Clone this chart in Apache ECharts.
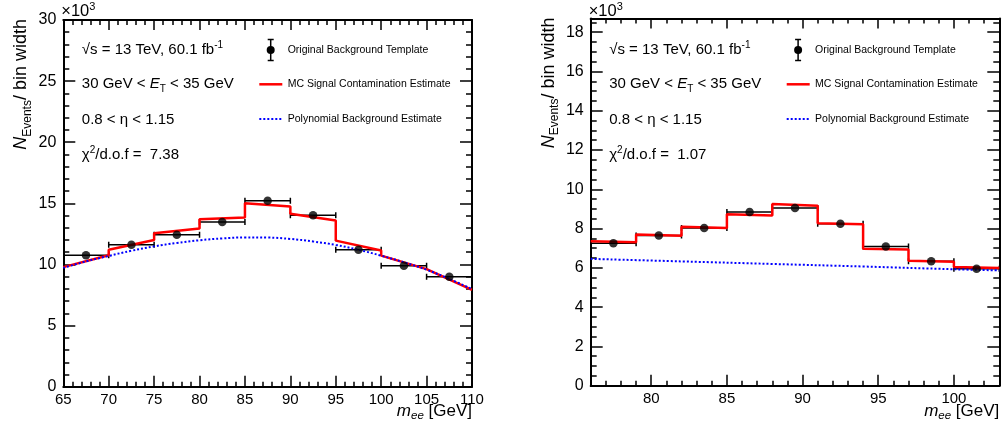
<!DOCTYPE html>
<html><head><meta charset="utf-8">
<script src="https://cdn.jsdelivr.net/npm/echarts@6/dist/echarts.min.js"></script>
<style>html,body{margin:0;padding:0;background:#fff}#c{width:1005px;height:434px}</style>
</head><body><div id="c"></div>
<script>
// ================= DATA =================
// Left panel (bins of 5 GeV), values in units of 10^3
const leftBinLo     = [65, 70, 75, 80, 85, 90, 95, 100, 105];
const leftBinHi     = [70, 75, 80, 85, 90, 95, 100, 105, 110];
const leftBinCenter = [67.5, 72.5, 77.5, 82.5, 87.5, 92.5, 97.5, 102.5, 107.5];
const leftTemplate  = [10.75, 11.62, 12.44, 13.48, 15.22, 14.03, 11.21, 9.90, 9.00];
const leftSignalStart = [9.78, 11.20, 12.55, 13.70, 15.00, 14.15, 11.95, 10.72, 9.48];
const leftSignalEnd   = [10.75, 12.00, 12.95, 13.85, 14.75, 13.60, 11.15, 9.62, 7.93];
const leftPolyX = [65, 67.5, 70, 72.5, 75, 77.5, 80, 82.5, 85, 87.5, 90, 92.5, 95, 97.5, 100, 102.5, 105, 107.5, 110];
const leftPolyY = [9.72, 10.25, 10.70, 11.12, 11.48, 11.76, 11.98, 12.13, 12.21, 12.20, 12.09, 11.88, 11.60, 11.20, 10.72, 10.18, 9.57, 8.82, 7.98];
const leftChi = '7.38';

// Right panel (bins of 3 GeV)
const rightBinLo     = [76, 79, 82, 85, 88, 91, 94, 97, 100];
const rightBinHi     = [79, 82, 85, 88, 91, 94, 97, 100, 103];
const rightBinCenter = [77.5, 80.5, 83.5, 86.5, 89.5, 92.5, 95.5, 98.5, 101.5];
const rightTemplate  = [7.26, 7.65, 8.03, 8.84, 9.05, 8.25, 7.09, 6.34, 5.95];
const rightSignalStart = [7.36, 7.70, 8.09, 8.73, 9.25, 8.27, 6.98, 6.36, 6.04];
const rightSignalEnd   = [7.30, 7.64, 8.03, 8.67, 9.17, 8.22, 6.93, 6.31, 6.00];
const rightPolyX = [76, 82, 88, 94, 100, 103];
const rightPolyY = [6.46, 6.33, 6.20, 6.07, 5.93, 5.87];
const rightChi = '1.07';

// Tick values
const leftXMajor  = [65, 70, 75, 80, 85, 90, 95, 100, 105, 110];
const leftXMinor  = [66,67,68,69,71,72,73,74,76,77,78,79,81,82,83,84,86,87,88,89,91,92,93,94,96,97,98,99,101,102,103,104,106,107,108,109];
const leftYMajor  = [0, 5, 10, 15, 20, 25, 30];
const leftYMinor  = [1,2,3,4,6,7,8,9,11,12,13,14,16,17,18,19,21,22,23,24,26,27,28,29];
const rightXMajor = [80, 85, 90, 95, 100];
const rightXMinor = [77,78,79,81,82,83,84,86,87,88,89,91,92,93,94,96,97,98,99,101,102];
const rightYMajor = [0, 2, 4, 6, 8, 10, 12, 14, 16, 18];
const rightYMinor = [0.5,1,1.5,2.5,3,3.5,4.5,5,5.5,6.5,7,7.5,8.5,9,9.5,10.5,11,11.5,12.5,13,13.5,14.5,15,15.5,16.5,17,17.5,18.5];

// ================= LAYOUT =================
const F = 'Liberation Sans';
const P = [
  {left: 63.3, top: 20, width: 408.7, height: 366.7, xmin: 65, xmax: 110, ymin: 0, ymax: 30,
   xMaj: leftXMajor, xMin: leftXMinor, yMaj: leftYMajor, yMin: leftYMinor,
   lo: leftBinLo, hi: leftBinHi, c: leftBinCenter, t: leftTemplate, s0: leftSignalStart, s1: leftSignalEnd,
   px: leftPolyX, py: leftPolyY, chi: leftChi},
  {left: 590.7, top: 18.5, width: 408.6, height: 367.2, xmin: 76, xmax: 103, ymin: 0, ymax: 18.7,
   xMaj: rightXMajor, xMin: rightXMinor, yMaj: rightYMajor, yMin: rightYMinor,
   lo: rightBinLo, hi: rightBinHi, c: rightBinCenter, t: rightTemplate, s0: rightSignalStart, s1: rightSignalEnd,
   px: rightPolyX, py: rightPolyY, chi: rightChi}
];

const grids = [], xAxes = [], yAxes = [], series = [], graphics = [];

function mkAxis(gi, pos, min, max, vals, len, isMajor, labels) {
  return {
    type: 'value', gridIndex: gi, position: pos, min: min, max: max,
    axisLine: {show: isMajor, onZero: false, lineStyle: {color: '#000', width: 2}},
    axisTick: {show: true, inside: true, length: len, customValues: vals, lineStyle: {color: '#000', width: 1.5}},
    axisLabel: labels ? {show: true, customValues: vals, margin: pos === 'bottom' ? 6 : 7,
      fontFamily: F, fontSize: pos === 'bottom' ? 15 : 16, color: '#000'} : {show: false},
    splitLine: {show: false}, minorTick: {show: false}
  };
}

function renderErr(params, api) {
  const a = api.coord([api.value(0), api.value(2)]);
  const b = api.coord([api.value(1), api.value(2)]);
  const st = {stroke: '#000', lineWidth: 1.5};
  return {type: 'group', children: [
    {type: 'line', shape: {x1: a[0], y1: a[1], x2: b[0], y2: b[1]}, style: st},
    {type: 'line', shape: {x1: a[0], y1: a[1] - 3, x2: a[0], y2: a[1] + 3}, style: st},
    {type: 'line', shape: {x1: b[0], y1: b[1] - 3, x2: b[0], y2: b[1] + 3}, style: st}
  ]};
}

const richDef = {
  n:   {fontFamily: F, fontSize: 15, lineHeight: 20, fill: '#000'},
  i:   {fontFamily: F, fontSize: 15, lineHeight: 20, fontStyle: 'italic', fill: '#000'},
  sp:  {fontFamily: F, fontSize: 10, lineHeight: 12, verticalAlign: 'top', fill: '#000'},
  sb:  {fontFamily: F, fontSize: 10, lineHeight: 10, verticalAlign: 'bottom', fill: '#000'}
};
function txt(x, y, text, rich, extra) {
  return {type: 'text', x: x, y: y, z: 100, style: Object.assign({
    text: text, rich: rich, fill: '#000', fontFamily: F, fontSize: 15, align: 'left', verticalAlign: 'middle'}, extra || {})};
}

P.forEach(function (p, gi) {
  grids.push({left: p.left, top: p.top, width: p.width, height: p.height, containLabel: false});
  const xb = xAxes.length;
  xAxes.push(mkAxis(gi, 'bottom', p.xmin, p.xmax, p.xMaj, 11, true, true));
  xAxes.push(mkAxis(gi, 'bottom', p.xmin, p.xmax, p.xMin, 5, false, false));
  xAxes.push(mkAxis(gi, 'top', p.xmin, p.xmax, p.xMaj, 10, true, false));
  xAxes.push(mkAxis(gi, 'top', p.xmin, p.xmax, p.xMin, 5, false, false));
  const yb = yAxes.length;
  yAxes.push(mkAxis(gi, 'left', p.ymin, p.ymax, p.yMaj, 12, true, true));
  yAxes.push(mkAxis(gi, 'left', p.ymin, p.ymax, p.yMin, 6, false, false));
  yAxes.push(mkAxis(gi, 'right', p.ymin, p.ymax, p.yMaj, 12, true, false));
  yAxes.push(mkAxis(gi, 'right', p.ymin, p.ymax, p.yMin, 6, false, false));

  // error bars (bin widths)
  series.push({type: 'custom', xAxisIndex: xb, yAxisIndex: yb, z: 2, clip: true,
    renderItem: renderErr, encode: {x: [0, 1], y: 2},
    data: p.lo.map(function (v, k) { return [v, p.hi[k], p.t[k]]; })});
  // MC signal contamination estimate (red)
  const red = [];
  p.lo.forEach(function (v, k) { red.push([v, p.s0[k]]); red.push([p.hi[k], p.s1[k]]); });
  series.push({type: 'line', xAxisIndex: xb, yAxisIndex: yb, z: 3, showSymbol: false, symbol: 'none',
    lineStyle: {color: '#ff0000', width: 2.5}, data: red, animation: false});
  // polynomial background (blue dotted)
  series.push({type: 'line', xAxisIndex: xb, yAxisIndex: yb, z: 4, showSymbol: false, symbol: 'none', smooth: 0.4,
    lineStyle: {color: '#0000ff', width: 2, type: [2, 2]},
    data: p.px.map(function (v, k) { return [v, p.py[k]]; }), animation: false});
  // template points
  series.push({type: 'scatter', xAxisIndex: xb, yAxisIndex: yb, z: 5, symbol: 'circle', symbolSize: 8.5,
    itemStyle: {color: '#000'}, data: p.c.map(function (v, k) { return [v, p.t[k]]; }), animation: false});

  // ---- annotations ----
  const gl = p.left, gr = p.left + p.width;
  graphics.push(txt(gl - 2, 11, '{n|×10}{sp|3}', {
    n: {fontFamily: F, fontSize: 16.5, lineHeight: 20, fill: '#000'},
    sp: {fontFamily: F, fontSize: 11, lineHeight: 12, verticalAlign: 'top', fill: '#000'}}));
  graphics.push(txt(gl + 18.5, 50, '{n|√s = 13 TeV, 60.1 fb}{sp|-1}', richDef));
  graphics.push(txt(gl + 18.5, 84, '{n|30 GeV < }{i|E}{sb|T}{n| < 35 GeV}', richDef));
  graphics.push(txt(gl + 18.5, 119.5, '{n|0.8 < η < 1.15}', richDef));
  graphics.push(txt(gl + 18.5, 155, '{n|χ}{sp|2}{n|/d.o.f =  ' + p.chi + '}', richDef));
  // legend
  const lx = gl + 207.4;
  graphics.push({type: 'line', z: 100, shape: {x1: lx, y1: 39.5, x2: lx, y2: 60.5}, style: {stroke: '#000', lineWidth: 1.5}});
  graphics.push({type: 'line', z: 100, shape: {x1: lx - 3, y1: 39.5, x2: lx + 3, y2: 39.5}, style: {stroke: '#000', lineWidth: 1.5}});
  graphics.push({type: 'line', z: 100, shape: {x1: lx - 3, y1: 60.5, x2: lx + 3, y2: 60.5}, style: {stroke: '#000', lineWidth: 1.5}});
  graphics.push({type: 'circle', z: 101, shape: {cx: lx, cy: 50, r: 4}, style: {fill: '#000'}});
  graphics.push({type: 'line', z: 100, shape: {x1: gl + 196, y1: 84.3, x2: gl + 219, y2: 84.3}, style: {stroke: '#ff0000', lineWidth: 2.5}});
  graphics.push({type: 'line', z: 100, shape: {x1: gl + 196, y1: 119, x2: gl + 219, y2: 119}, style: {stroke: '#0000ff', lineWidth: 2, lineDash: [2, 2]}});
  const legF = {fontSize: 10.5};
  graphics.push(txt(gl + 224.4, 50, 'Original Background Template', null, legF));
  graphics.push(txt(gl + 224.4, 84.3, 'MC Signal Contamination Estimate', null, legF));
  graphics.push(txt(gl + 224.4, 119, 'Polynomial Background Estimate', null, legF));
  // axis titles
  graphics.push(txt(gr, 411, '{i|m}{sb|ee}{n| [GeV]}', {
    n: {fontFamily: F, fontSize: 17, lineHeight: 22, fill: '#000'},
    i: {fontFamily: F, fontSize: 17, lineHeight: 22, fontStyle: 'italic', fill: '#000'},
    sb: {fontFamily: F, fontSize: 11.5, lineHeight: 11, verticalAlign: 'bottom', fontStyle: 'italic', fill: '#000'}},
    {align: 'right'}));
  graphics.push(Object.assign(txt(gl - 42, p.top - 1, '{i|N}{sb|Events}{n|/ bin width}', {
    n: {fontFamily: F, fontSize: 18, lineHeight: 24, fill: '#000'},
    i: {fontFamily: F, fontSize: 18, lineHeight: 24, fontStyle: 'italic', fill: '#000'},
    sb: {fontFamily: F, fontSize: 12, lineHeight: 12, verticalAlign: 'bottom', fill: '#000'}},
    {align: 'right'}), {rotation: Math.PI / 2}));
});

const chart = echarts.init(document.getElementById('c'), null, {renderer: 'canvas'});
chart.setOption({
  animation: false,
  backgroundColor: '#fff',
  grid: grids, xAxis: xAxes, yAxis: yAxes, series: series, graphic: {elements: graphics}
});
</script></body></html>
